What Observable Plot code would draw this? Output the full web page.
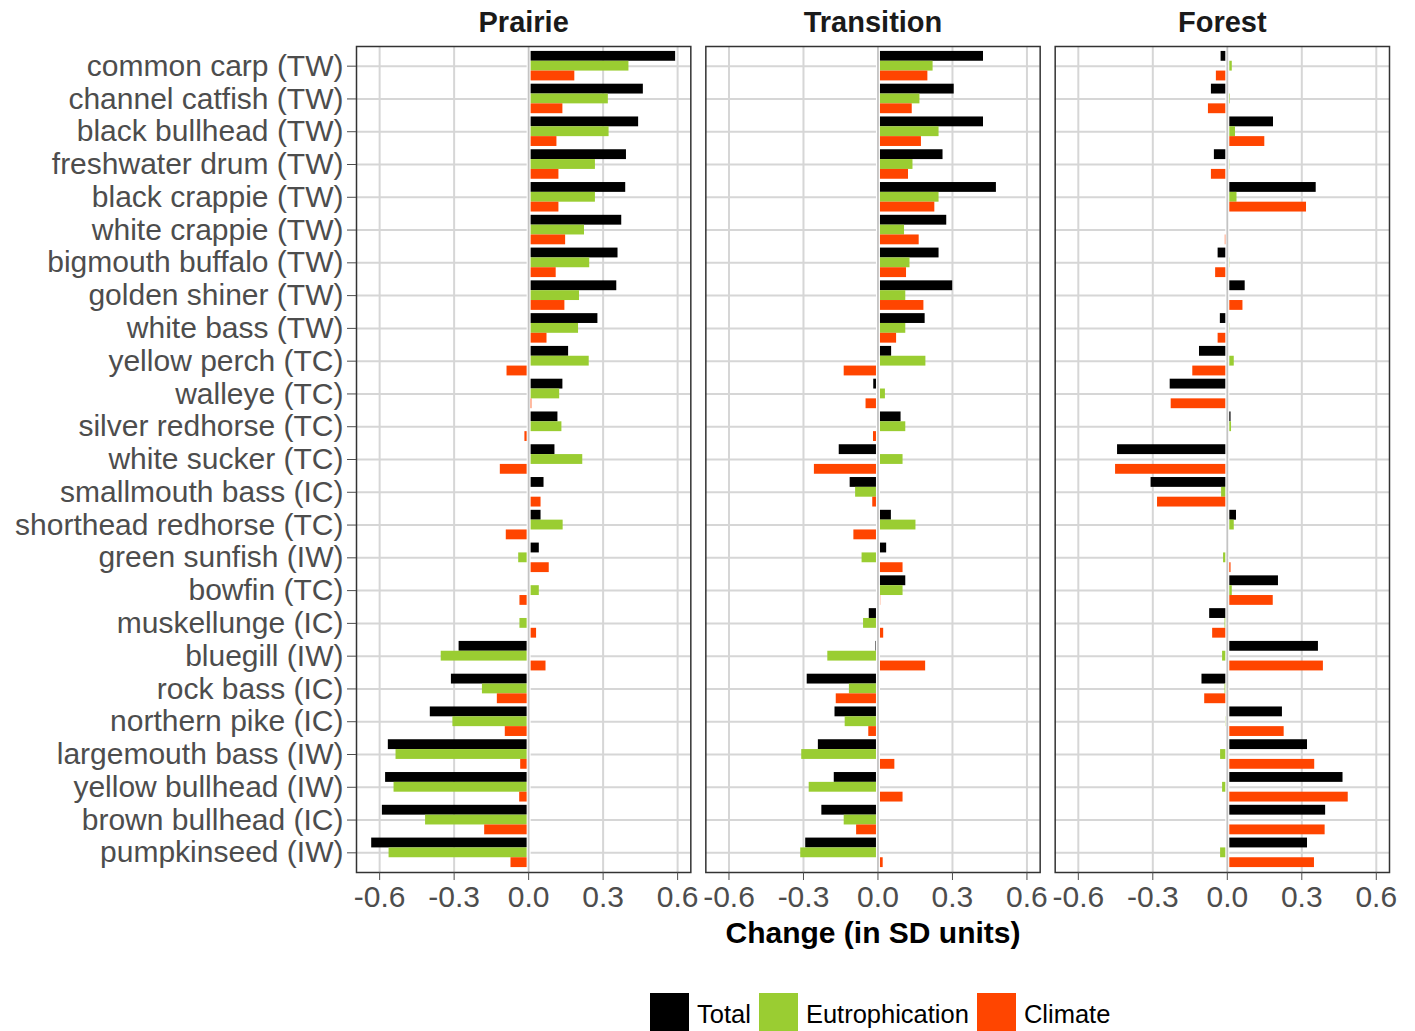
<!DOCTYPE html>
<html><head><meta charset="utf-8">
<script src="https://cdn.jsdelivr.net/npm/d3@7"></script>
<script src="https://cdn.jsdelivr.net/npm/@observablehq/plot@0.6"></script>
<style>
body{margin:0;background:#fff;font-family:"Liberation Sans",Arial,sans-serif;}
#wrap{position:relative;width:1415px;height:1031px;overflow:hidden;background:#fff}
#legend{position:absolute;left:650px;top:993px;display:flex;align-items:center;font-size:25.5px;color:#000;white-space:nowrap}
.sw{width:39px;height:39px;margin-right:8px;flex:none}
.lab{margin-right:8px;position:relative;top:2px}
</style></head><body><div id="wrap"><div id="chart"></div><div id="legend"></div></div>
<script>
const species = ["common carp (TW)","channel catfish (TW)","black bullhead (TW)","freshwater drum (TW)","black crappie (TW)","white crappie (TW)","bigmouth buffalo (TW)","golden shiner (TW)","white bass (TW)","yellow perch (TC)","walleye (TC)","silver redhorse (TC)","white sucker (TC)","smallmouth bass (IC)","shorthead redhorse (TC)","green sunfish (IW)","bowfin (TC)","muskellunge (IC)","bluegill (IW)","rock bass (IC)","northern pike (IC)","largemouth bass (IW)","yellow bullhead (IW)","brown bullhead (IC)","pumpkinseed (IW)"];
const regions = ["Prairie","Transition","Forest"];
const series = ["Total","Eutrophication","Climate"];
const seriesColors = ["#000000","#9ACD32","#FF4500"];
const xTicks = [-0.6,-0.3,0,0.3,0.6];

const prairieTotal   = [0.592,0.462,0.443,0.394,0.391,0.375,0.360,0.355,0.279,0.161,0.138,0.118,0.106,0.062,0.050,0.043,0.005,0.000,-0.280,-0.311,-0.396,-0.565,-0.576,-0.589,-0.632];
const prairieEutro   = [0.404,0.321,0.324,0.269,0.269,0.225,0.246,0.205,0.201,0.244,0.125,0.134,0.218,0.005,0.139,-0.040,0.043,-0.035,-0.352,-0.186,-0.305,-0.534,-0.542,-0.415,-0.562];
const prairieClimate = [0.186,0.138,0.114,0.122,0.122,0.149,0.111,0.146,0.074,-0.087,0.013,-0.015,-0.114,0.050,-0.090,0.083,-0.035,0.032,0.070,-0.126,-0.094,-0.032,-0.036,-0.177,-0.071];

const transitionTotal   = [0.425,0.307,0.425,0.262,0.477,0.277,0.246,0.301,0.190,0.055,-0.017,0.093,-0.156,-0.112,0.054,0.035,0.112,-0.035,-0.008,-0.285,-0.173,-0.240,-0.176,-0.226,-0.291];
const transitionEutro   = [0.222,0.169,0.246,0.141,0.246,0.107,0.129,0.112,0.112,0.193,0.030,0.112,0.101,-0.090,0.153,-0.064,0.101,-0.058,-0.202,-0.115,-0.132,-0.307,-0.277,-0.136,-0.311];
const transitionClimate = [0.201,0.138,0.175,0.123,0.229,0.166,0.115,0.185,0.075,-0.136,-0.048,-0.018,-0.256,-0.021,-0.097,0.101,0.011,0.023,0.192,-0.168,-0.037,0.068,0.101,-0.086,0.021];

const forestTotal   = [-0.025,-0.064,0.186,-0.052,0.358,0.000,-0.037,0.072,-0.028,-0.112,-0.230,0.015,-0.442,-0.307,0.037,0.000,0.206,-0.071,0.367,-0.102,0.222,0.323,0.466,0.396,0.323];
const forestEutro   = [0.020,0.012,0.033,0.010,0.039,0.006,0.010,0.008,0.010,0.028,0.000,0.017,0.000,-0.023,0.028,-0.015,0.020,-0.009,-0.019,-0.009,-0.006,-0.027,-0.019,0.000,-0.027];
const forestClimate = [-0.044,-0.076,0.151,-0.064,0.319,-0.008,-0.047,0.063,-0.037,-0.139,-0.226,0.000,-0.450,-0.281,0.006,0.015,0.185,-0.059,0.387,-0.091,0.229,0.352,0.487,0.394,0.351];

const table = {
  Prairie: [prairieTotal, prairieEutro, prairieClimate],
  Transition: [transitionTotal, transitionEutro, transitionClimate],
  Forest: [forestTotal, forestEutro, forestClimate]
};
const data = [];
regions.forEach(r => series.forEach((s, j) => table[r][j].forEach((v, i) =>
  data.push({region: r, species: species[i], series: s, value: v}))));

const W = 1415, H = 960, mL = 356, mR = 26, mT = 46, mB = 88;
const vals = data.map(d => d.value);
const lo = d3.min(vals), hi = d3.max(vals), pad = (hi - lo) * 0.05;
const yOuter = 0.1;
const step = (H - mT - mB) / (species.length + 2 * yOuter);
const insets = {Total: [0.05, 0.65], Eutrophication: [0.35, 0.35], Climate: [0.65, 0.05]};
const font = '"Liberation Sans", Arial, sans-serif';

const bars = series.map((s, j) => Plot.barX(data.filter(d => d.series === s), {
  x: "value", y: "species", fx: "region", fill: seriesColors[j],
  insetTop: insets[s][0] * step, insetBottom: insets[s][1] * step
}));

const chart = Plot.plot({
  width: W, height: H, marginLeft: mL, marginRight: mR, marginTop: mT, marginBottom: mB,
  style: {fontFamily: font, background: "#fff"},
  x: {domain: [lo - pad, hi + pad], axis: null},
  y: {domain: species, paddingInner: 0, paddingOuter: yOuter, round: false, axis: null},
  fx: {domain: regions, paddingInner: 15 / 349, paddingOuter: 0, round: false, axis: null},
  marks: [
    Plot.gridX({ticks: xTicks, stroke: "#d6d6d6", strokeOpacity: 1, strokeWidth: 2}),
    Plot.gridY({stroke: "#d6d6d6", strokeOpacity: 1, strokeWidth: 2}),
    ...bars,
    Plot.ruleX([0], {stroke: "#ffffff", strokeWidth: 4}),
    Plot.ruleX([0], {stroke: "#c4c4c4", strokeWidth: 1.8}),
    Plot.frame({stroke: "#333", strokeWidth: 1.5}),
    Plot.axisY({tickSize: 9, tickPadding: 4, fontSize: 30, color: "#4d4d4d", label: null}),
    Plot.axisX({ticks: xTicks, tickFormat: d => d.toFixed(1), tickSize: 8, tickPadding: 5, fontSize: 30, color: "#4d4d4d", label: null}),
    Plot.axisFx({anchor: "top", tickSize: 0, tickPadding: 15, fontSize: 29, fontWeight: "bold", color: "#1a1a1a", label: null}),
    Plot.text(["Change (in SD units)"], {frameAnchor: "bottom", facet: "super", dy: 70, fontSize: 30, fontWeight: "bold", fill: "#000"})
  ]
});
document.getElementById("chart").appendChild(chart);

const legend = document.getElementById("legend");
series.forEach((s, j) => {
  const sw = document.createElement("div");
  sw.className = "sw"; sw.style.background = seriesColors[j];
  const lab = document.createElement("span");
  lab.className = "lab"; lab.textContent = s;
  legend.appendChild(sw); legend.appendChild(lab);
});
</script></body></html>
